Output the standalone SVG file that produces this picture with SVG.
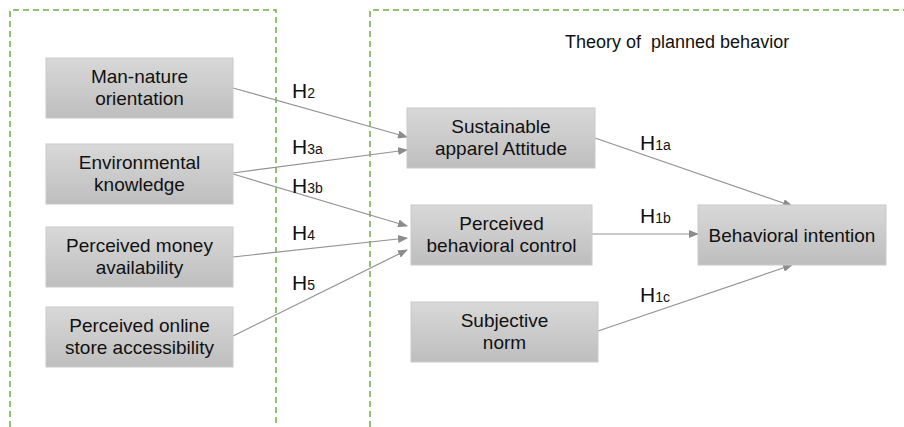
<svg xmlns="http://www.w3.org/2000/svg" width="904" height="427" viewBox="0 0 904 427">
<defs>
<linearGradient id="g" x1="0" y1="0" x2="0" y2="1">
<stop offset="0" stop-color="#d8d8d8"/>
<stop offset="1" stop-color="#bebebe"/>
</linearGradient>
<marker id="ah" markerWidth="10" markerHeight="8" refX="9" refY="4" orient="auto" markerUnits="userSpaceOnUse">
<path d="M0,0 L10,4 L0,8 Z" fill="#8c8c8c"/>
</marker>
<style>
.box{fill:url(#g);stroke:#cacaca;stroke-width:1}
.t{font-family:"Liberation Sans",Arial,sans-serif;font-size:19px;fill:#111;text-anchor:middle}
.h{font-family:"Liberation Sans",Arial,sans-serif;font-size:21px;fill:#111}
.s{font-size:14px}
.dash{fill:none;stroke:#70ad47;stroke-width:1.5;stroke-dasharray:6 4}
.c{fill:none;stroke:#939393;stroke-width:1.2;marker-end:url(#ah)}
.title{font-family:"Liberation Sans",Arial,sans-serif;font-size:18px;fill:#111;white-space:pre}
</style>
</defs>
<rect width="904" height="427" fill="#fff"/>
<g id="frames">
<path class="dash" d="M10,427 V10 H276 V427"/>
<path class="dash" d="M370,427 V10 H904"/>
</g>
<text class="title" x="565" y="48" xml:space="preserve">Theory of  planned behavior</text>
<g id="connectors">
<line class="c" x1="233" y1="88" x2="407" y2="137"/>
<line class="c" x1="233" y1="173" x2="407" y2="150"/>
<line class="c" x1="233" y1="174" x2="407" y2="226"/>
<line class="c" x1="233" y1="257" x2="407" y2="238"/>
<line class="c" x1="233" y1="336" x2="407" y2="250"/>
<line class="c" x1="595" y1="138" x2="792" y2="206"/>
<line class="c" x1="592" y1="234" x2="698" y2="234"/>
<line class="c" x1="598" y1="331" x2="792" y2="265"/>
<text class="h" x="292" y="98">H<tspan class="s">2</tspan></text>
<text class="h" x="292" y="154">H<tspan class="s">3a</tspan></text>
<text class="h" x="292" y="193">H<tspan class="s">3b</tspan></text>
<text class="h" x="292" y="240">H<tspan class="s">4</tspan></text>
<text class="h" x="292" y="290">H<tspan class="s">5</tspan></text>
<text class="h" x="640" y="150">H<tspan class="s">1a</tspan></text>
<text class="h" x="640" y="223">H<tspan class="s">1b</tspan></text>
<text class="h" x="640" y="302">H<tspan class="s">1c</tspan></text>
</g>
<g id="man-nature">
<rect class="box" x="46" y="58" width="187" height="60"/>
<text class="t" x="139.5" y="83">Man-nature</text>
<text class="t" x="139.5" y="105">orientation</text>
</g>
<g id="env-knowledge">
<rect class="box" x="46" y="144" width="187" height="60"/>
<text class="t" x="139.5" y="169">Environmental</text>
<text class="t" x="139.5" y="191">knowledge</text>
</g>
<g id="money">
<rect class="box" x="46" y="227" width="187" height="60"/>
<text class="t" x="139.5" y="252">Perceived money</text>
<text class="t" x="139.5" y="274">availability</text>
</g>
<g id="online">
<rect class="box" x="46" y="307" width="187" height="60"/>
<text class="t" x="139.5" y="332">Perceived online</text>
<text class="t" x="139.5" y="354">store accessibility</text>
</g>
<g id="attitude">
<rect class="box" x="407" y="108" width="188" height="60"/>
<text class="t" x="501" y="133">Sustainable</text>
<text class="t" x="501" y="155">apparel Attitude</text>
</g>
<g id="pbc">
<rect class="box" x="411" y="205" width="181" height="60"/>
<text class="t" x="501.5" y="230">Perceived</text>
<text class="t" x="501.5" y="252">behavioral control</text>
</g>
<g id="norm">
<rect class="box" x="411" y="302" width="187" height="60"/>
<text class="t" x="504.5" y="327">Subjective</text>
<text class="t" x="504.5" y="349">norm</text>
</g>
<g id="intention">
<rect class="box" x="698" y="205" width="188" height="60"/>
<text class="t" x="792" y="242">Behavioral intention</text>
</g>
</svg>
